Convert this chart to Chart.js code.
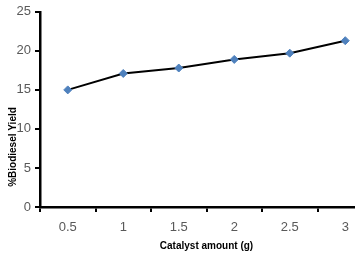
<!DOCTYPE html>
<html>
<head>
<meta charset="utf-8">
<script src="https://cdn.jsdelivr.net/npm/chart.js@4"></script>
<style>
  html, body { margin: 0; padding: 0; background: #fff; overflow: hidden; }
  #wrap { width: 378px; height: 254px; }
</style>
</head>
<body>
<div id="wrap"><canvas id="chart" width="378" height="254"></canvas></div>
<script>
// catalyst amount (g) vs % biodiesel yield
var catalystAmounts = ['0.5', '1', '1.5', '2', '2.5', '3'];
var biodieselYield = [15.0, 17.1, 17.8, 18.9, 19.7, 21.3];
var yTitle = '%Biodiesel Yield';
var xTitle = 'Catalyst amount (g)';

// draws the y title where the original had it (lower than centre)
var yTitlePlugin = {
  id: 'yTitle',
  afterDraw: function (chart) {
    var ctx = chart.ctx;
    ctx.save();
    ctx.translate(13, 147);
    ctx.rotate(-Math.PI / 2);
    ctx.font = 'bold 10px "Liberation Sans", Arial, sans-serif';
    ctx.fillStyle = '#000';
    ctx.textAlign = 'center';
    ctx.textBaseline = 'middle';
    ctx.fillText(yTitle, 0, 0);
    ctx.restore();
  }
};

var ctx = document.getElementById('chart');
new Chart(ctx, {
  type: 'line',
  data: {
    labels: catalystAmounts,
    datasets: [{
      data: biodieselYield,
      borderColor: '#000',
      borderWidth: 2,
      tension: 0,
      pointStyle: 'rectRot',
      pointRadius: 4,
      pointBackgroundColor: '#4F81BD',
      pointBorderColor: '#4F81BD',
      pointBorderWidth: 1
    }]
  },
  options: {
    responsive: false,
    animation: false,
    layout: { padding: { top: 11, right: 2, left: 0, bottom: 0 } },
    plugins: {
      legend: { display: false },
      tooltip: { enabled: false }
    },
    scales: {
      x: {
        type: 'category',
        offset: true,
        border: { color: '#000', width: 2.5 },
        grid: { offset: true, drawOnChartArea: false, tickLength: 5, color: '#000', lineWidth: 2 },
        ticks: {
          color: '#595959',
          font: { family: '"Liberation Sans", Arial, sans-serif', size: 13 },
          padding: 8,
          maxRotation: 0
        },
        title: {
          display: true,
          text: xTitle,
          color: '#000',
          font: { family: '"Liberation Sans", Arial, sans-serif', size: 10, weight: 'bold' },
          padding: { top: 3, bottom: 2 }
        },
        afterFit: function (scale) { scale.height = 47; }
      },
      y: {
        min: 0,
        max: 25,
        border: { color: '#000', width: 2.5 },
        grid: { drawOnChartArea: false, tickLength: 5, color: '#000', lineWidth: 2 },
        ticks: {
          stepSize: 5,
          color: '#595959',
          font: { family: '"Liberation Sans", Arial, sans-serif', size: 13 },
          padding: 4
        },
        afterFit: function (scale) { scale.width = 40; }
      }
    }
  },
  plugins: [yTitlePlugin]
});
</script>
</body>
</html>
